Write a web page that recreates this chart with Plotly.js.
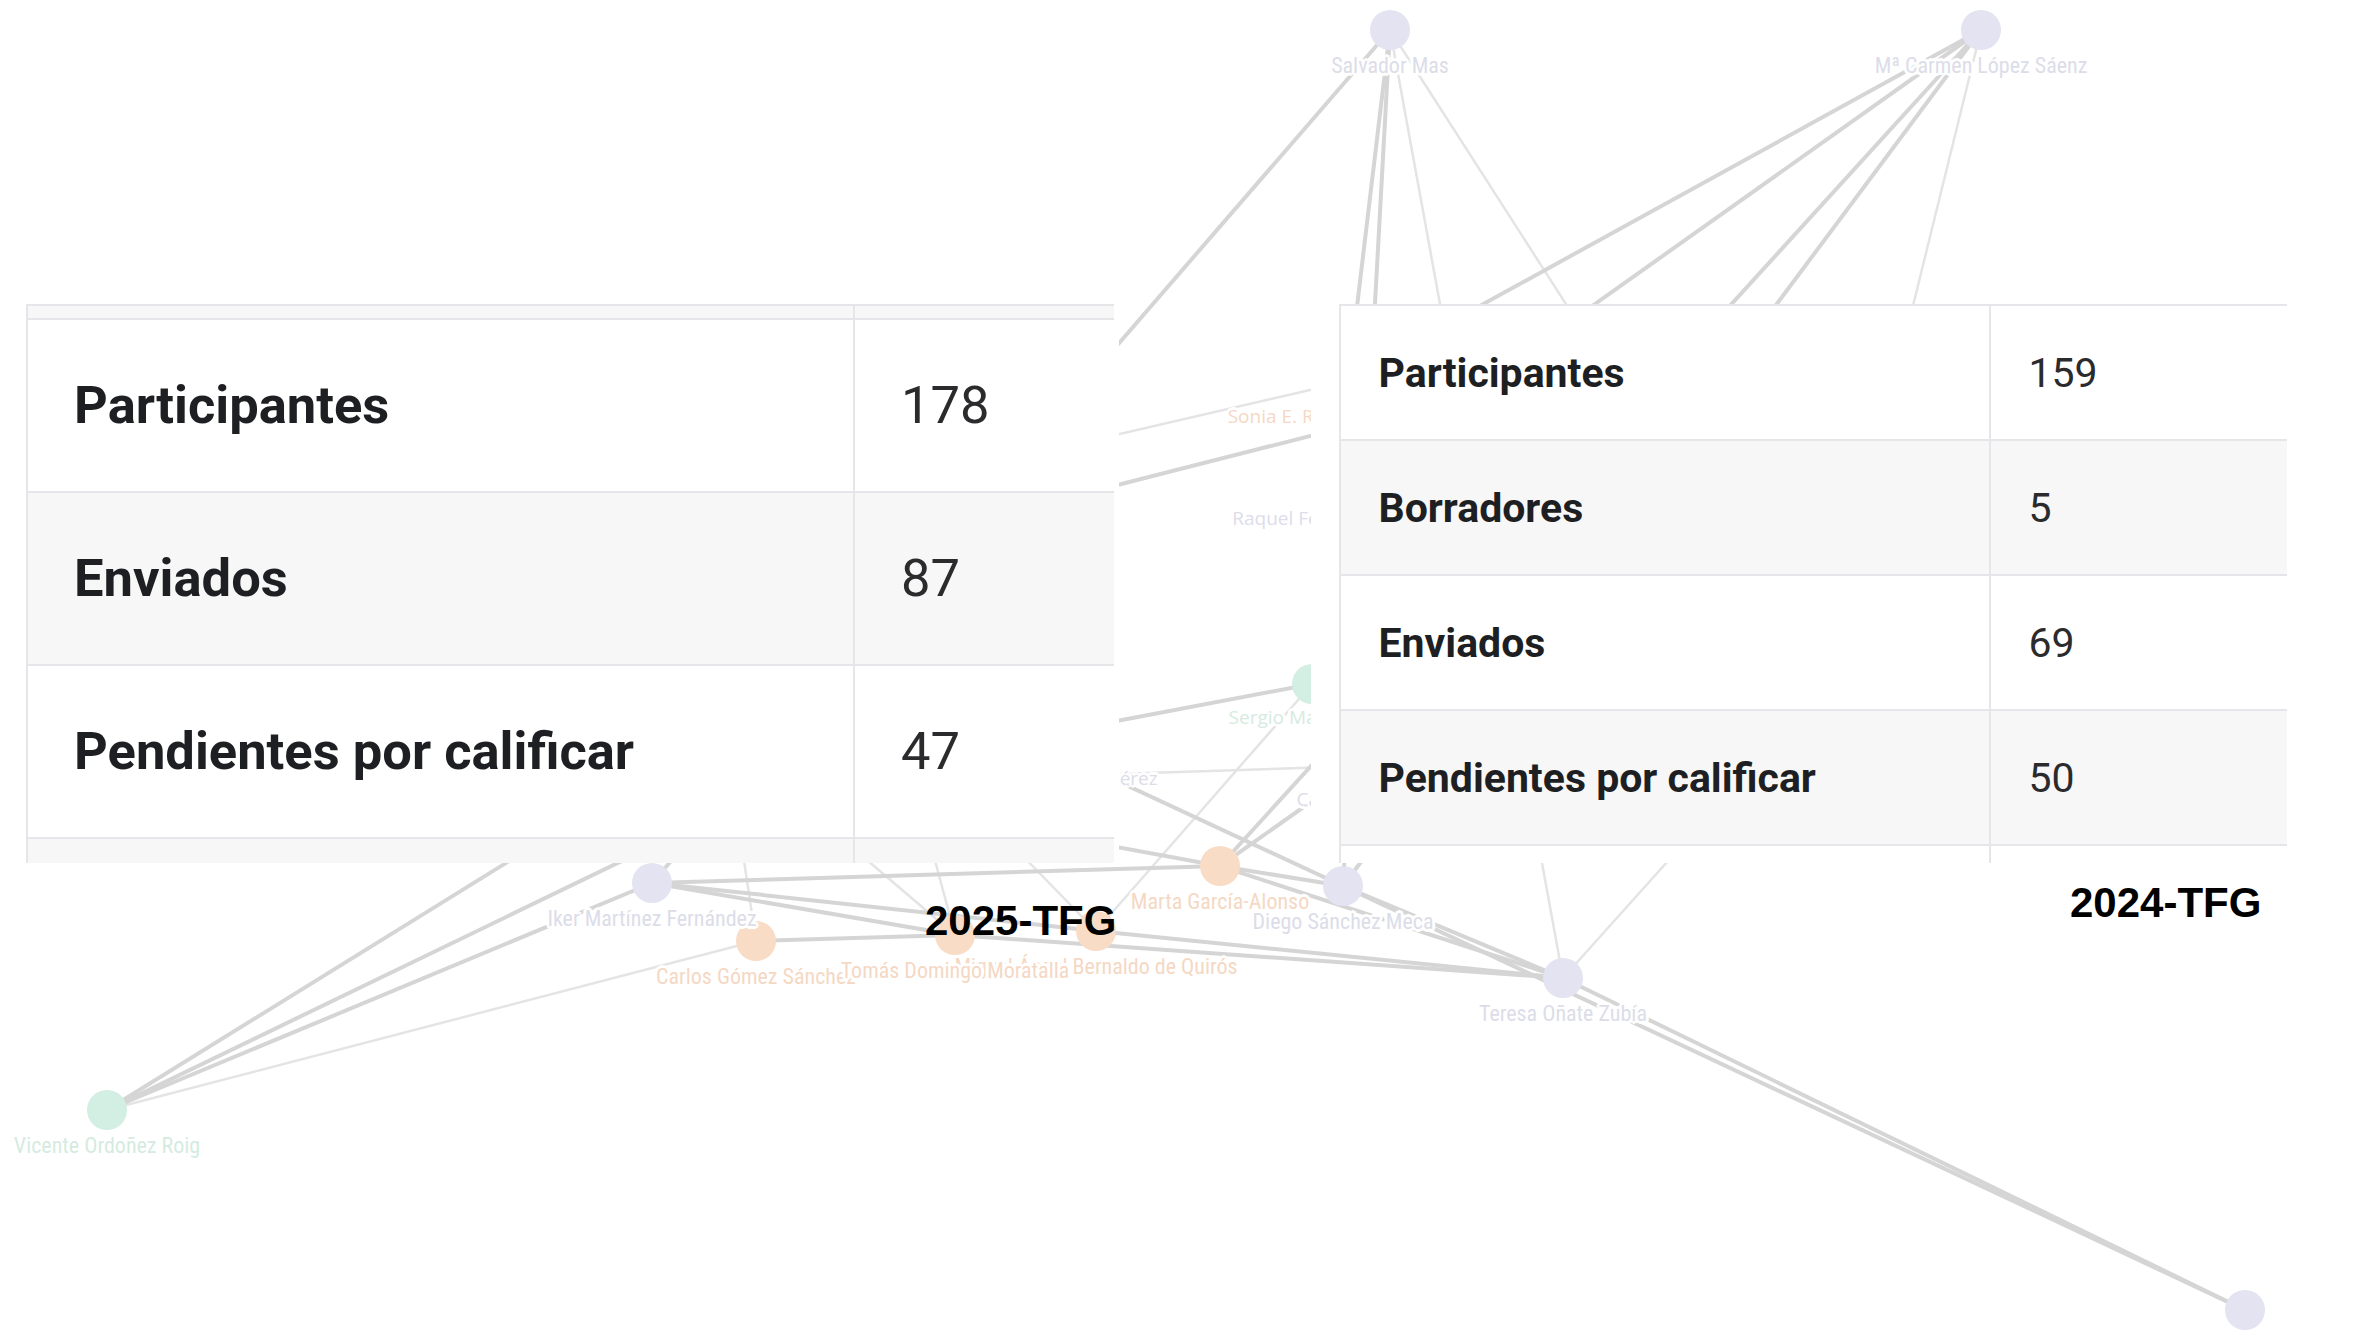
<!DOCTYPE html>
<html>
<head>
<meta charset="utf-8">
<script src="https://cdn.plot.ly/plotly-3.0.1.min.js"></script>
<style>
  html, body { margin: 0; padding: 0; background: #ffffff; }
  #chart { width: 2357px; height: 1340px; }
  .scrollbar-kit { display: none !important; }
</style>
</head>
<body>
<div id="chart"></div>
<script>
// ---------- Network (background) ----------
var nodeNames = [
  'Salvador Mas', 'Mª Carmen López Sáenz', 'Vicente Ordoñez Roig', 'Iker Martínez Fernández',
  'Carlos Gómez Sánchez', 'Miguel Ángel Bernaldo de Quirós', 'Tomás Domingo Moratalla', 'Marta García-Alonso',
  'Diego Sánchez Meca', 'Teresa Oñate Zubía', 'Sergio Martínez Gil', 'Sonia E. Rodríguez García',
  'Raquel Fernández Rubio', 'Carmen Rovira', 'Juan Antonio Gómez Pérez', '',
  '', '', '', '', '', '', '', ''
];
var nodeX = [1390, 1981, 107, 652, 756, 1096, 955, 1220, 1343, 1563, 1312, 1340, 1340, 1362, 1040, 2245,
             779, 640, 330, 450, 720, 900, 1420, 1817];
var nodeY = [30, 30, 1110, 883, 941, 931, 935, 866, 886, 978, 684, 383, 485, 766, 745, 1310,
             785, 780, 617, 655, 700, 730, 408, 695];
var nodeGroup = ['A', 'A', 'C', 'A', 'B', 'B', 'B', 'B', 'A', 'A', 'C', 'B', 'A', 'A', 'A', 'A',
                 'A', 'A', 'A', 'A', 'A', 'A', 'A', 'A'];
var edgeFrom = [0, 0, 0, 0, 0, 1, 1, 1, 1, 1, 2, 2, 2, 2, 3, 3, 3, 4, 6, 5, 7, 7, 8, 8, 9, 9, 10, 16, 16, 16, 7, 14, 18, 19, 20, 16, 21, 21];
var edgeTo   = [3, 10, 8, 9, 23, 11, 12, 7, 8, 23, 3, 16, 17, 4, 7, 6, 5, 6, 9, 9, 8, 9, 9, 15, 15, 23, 5, 10, 13, 7, 13, 8, 11, 22, 4, 6, 6, 5];
var edgeThick = [1, 1, 1, 0, 0, 1, 1, 1, 1, 0, 1, 1, 1, 0, 1, 1, 1, 1, 1, 1, 1, 1, 1, 1, 1, 0, 0, 1, 0, 1, 1, 1, 0, 1, 0, 0, 0, 0];

// ---------- Tables ----------
var rows2025 = ['Participantes', 'Enviados', 'Pendientes por calificar', ''];
var values2025 = ['178', '87', '47', ''];
var rows2024 = ['Participantes', 'Borradores', 'Enviados', 'Pendientes por calificar', ''];
var values2024 = ['159', '5', '69', '50', ''];
var tableTitles = ['2025-TFG', '2024-TFG'];

// ---------- Build traces ----------
var groupNode = { A: '#e3e3f1', B: '#f9dcc6', C: '#d3eee3' };
var groupLabel = { A: '#dcdde9', B: '#f5d8c4', C: '#d5ebe1' };
var gapLabels = { 10: 1, 11: 1, 12: 1, 13: 1, 14: 1 };

function edgeTrace(thick) {
  var xs = [], ys = [];
  for (var i = 0; i < edgeFrom.length; i++) {
    if (edgeThick[i] !== thick) continue;
    xs.push(nodeX[edgeFrom[i]], nodeX[edgeTo[i]], null);
    ys.push(nodeY[edgeFrom[i]], nodeY[edgeTo[i]], null);
  }
  return {
    type: 'scatter', mode: 'lines', x: xs, y: ys, hoverinfo: 'skip',
    line: { color: thick ? '#d5d5d5' : '#e4e4e4', width: thick ? 4 : 2.5 }
  };
}

var nodeTrace = {
  type: 'scatter', mode: 'markers',
  x: nodeX, y: nodeY, hoverinfo: 'skip',
  marker: { size: 40, color: nodeGroup.map(function (g) { return groupNode[g]; }), line: { width: 0 } }
};

var halo = '3px 0 0 #fff, -3px 0 0 #fff, 0 3px 0 #fff, 0 -3px 0 #fff, 2px 2px 0 #fff, -2px -2px 0 #fff, 2px -2px 0 #fff, -2px 2px 0 #fff, 0 0 5px #fff';
function labelTrace(gap) {
  var xs = [], ys = [], ts = [], cs = [];
  for (var i = 0; i < nodeNames.length; i++) {
    if (!!gapLabels[i] !== gap || nodeNames[i] === '') continue;
    xs.push(nodeX[i]); ys.push(nodeY[i]); ts.push(nodeNames[i]); cs.push(groupLabel[nodeGroup[i]]);
  }
  return {
    type: 'scatter', mode: 'markers+text', x: xs, y: ys, text: ts,
    textposition: 'bottom center', hoverinfo: 'skip',
    marker: { size: 40, color: 'rgba(0,0,0,0)', line: { width: 0 } },
    textfont: {
      family: gap ? 'Open Sans, sans-serif' : 'Liberation Sans Narrow, Arial Narrow, Roboto Condensed, sans-serif',
      size: gap ? 19 : 22, color: cs, shadow: halo
    }
  };
}

var nb = '\u00a0\u00a0\u00a0';
var spacer = '<span style="color:rgba(0,0,0,0)">.</span>';
function fmt(s, bold, size) {
  if (s === '') return '';
  return spacer + '<br><span style="font-size:' + size + 'px">' + nb + (bold ? '<b>' + s + '</b>' : s) + '</span>';
}
function stripes(n, first) {
  var out = [];
  for (var i = 0; i < n; i++) out.push(((i % 2 === 0) === first) ? '#ffffff' : '#f7f7f7');
  return out;
}
function repeat(v, n) { var o = []; for (var i = 0; i < n; i++) o.push(v); return o; }
var lineCol = '#e4e6ea';

var big = 52.5, small = 41;
var table2025 = {
  type: 'table',
  domain: { x: [27 / 2357, 1118 / 2357], y: [1 - 864 / 1340, 1 - 305 / 1340] },
  columnwidth: [827, 261, 3],
  header: {
    values: ['', '', ''], height: 14,
    fill: { color: ['#f7f7f7', '#f7f7f7', '#ffffff'] },
    line: { color: [lineCol, lineCol, '#ffffff'], width: 2 }
  },
  cells: {
    values: [rows2025.map(function (s) { return fmt(s, true, big); }),
             values2025.map(function (s) { return fmt(s, false, big); }),
             repeat('', 4)],
    height: 173, align: 'left',
    fill: { color: [stripes(4, true), stripes(4, true), repeat('#ffffff', 4)] },
    line: { color: [lineCol, lineCol, '#ffffff'], width: 2 },
    font: { family: 'Roboto', size: 43, color: ['#1e1f22', '#2b2b2e', '#ffffff'] }
  }
};

var table2024 = {
  type: 'table',
  domain: { x: [1312 / 2357, 2291 / 2357], y: [1 - 864 / 1340, 1 - 305 / 1340] },
  columnwidth: [28, 650, 298, 3],
  header: {
    values: ['', fmt(rows2024[0], true, small), fmt(values2024[0], false, small), ''],
    height: 135, align: 'left',
    fill: { color: ['#ffffff', '#ffffff', '#ffffff', '#ffffff'] },
    line: { color: ['#ffffff', lineCol, lineCol, '#ffffff'], width: 2 },
    font: { family: 'Roboto', size: 33, color: ['#1e1f22', '#1e1f22', '#2b2b2e', '#ffffff'] }
  },
  cells: {
    values: [repeat('', 4),
             rows2024.slice(1).map(function (s) { return fmt(s, true, small); }),
             values2024.slice(1).map(function (s) { return fmt(s, false, small); }),
             repeat('', 4)],
    height: 135, align: 'left',
    fill: { color: [repeat('#ffffff', 4), stripes(4, false), stripes(4, false), repeat('#ffffff', 4)] },
    line: { color: ['#ffffff', lineCol, lineCol, '#ffffff'], width: 2 },
    font: { family: 'Roboto', size: 33, color: ['#1e1f22', '#1e1f22', '#2b2b2e', '#ffffff'] }
  }
};

var data = [edgeTrace(0), edgeTrace(1), nodeTrace, labelTrace(false), labelTrace(true), table2025, table2024];

var layout = {
  width: 2357, height: 1340,
  margin: { l: 0, r: 0, t: 0, b: 0, pad: 0 },
  paper_bgcolor: '#ffffff', plot_bgcolor: '#ffffff',
  showlegend: false,
  xaxis: { range: [0, 2357], visible: false, fixedrange: true },
  yaxis: { range: [1340, 0], visible: false, fixedrange: true },
  annotations: [
    { text: '<b>' + tableTitles[0] + '</b>', x: 1020, y: 920, xref: 'x', yref: 'y', showarrow: false,
      font: { family: 'Liberation Sans', size: 42, color: '#000000' } },
    { text: '<b>' + tableTitles[1] + '</b>', x: 2165, y: 902, xref: 'x', yref: 'y', showarrow: false,
      font: { family: 'Liberation Sans', size: 42, color: '#000000' } }
  ]
};

Plotly.newPlot('chart', data, layout, { staticPlot: true, displayModeBar: false });
</script>
</body>
</html>
